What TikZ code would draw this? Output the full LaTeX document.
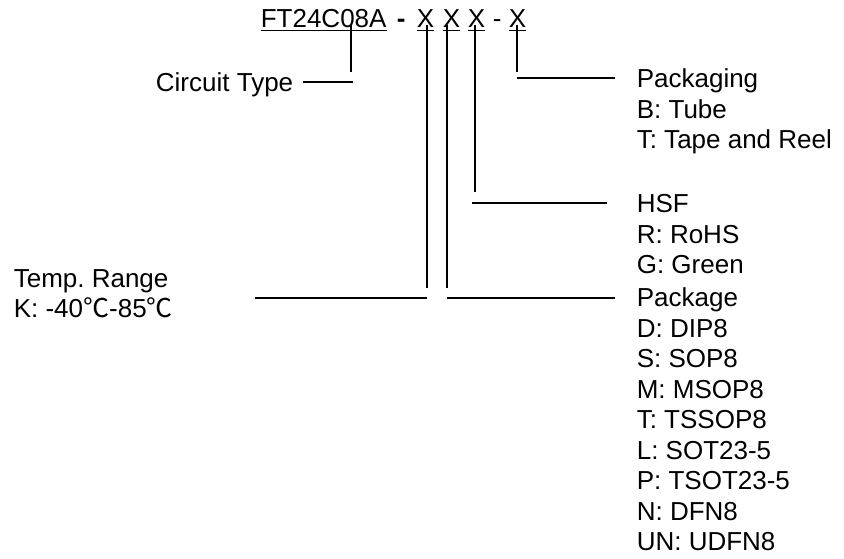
\documentclass[tikz,border=0pt]{standalone}
\usepackage{fontspec}
\setmainfont{Liberation Sans}
\newfontfamily\cjk{Noto Sans CJK SC}
\newcommand{\degc}{{\cjk ℃}}
\frenchspacing

\begin{document}
\begin{tikzpicture}[x=0.75pt,y=-0.75pt,line width=1.2pt,
  code/.style={inner sep=0pt,anchor=base west,font=\fontsize{19.5pt}{22.9pt}\selectfont},
  legend/.style={code,align=left}]
\useasboundingbox (0,0) rectangle (844,559);
% part number
\node[code] (type) at (260,28) {\underline{FT24C08A}};
\node[code] (bar) at (396,28) {\bfseries -};
\node[code] (x1) at (416,28) {\underline{X}};
\node[code] (x2) at (442,28) {\underline{X}};
\node[code] (x3) at (467,28) {\underline{X}};
\node[code] (sep) at (492,28) {-};
\node[code] (x4) at (508,28) {\underline{X}};
% legends (placed at the baseline of their last line)
\node[code,anchor=base east] (circuit) at (294,92) {Circuit Type};
\node[legend] (packaging) at (636,149) {Packaging\\B: Tube\\T: Tape and Reel};
\node[legend] (hsf) at (636,274) {HSF\\R: RoHS\\G: Green};
\node[legend] (package) at (636,551) {Package\\D: DIP8\\S: SOP8\\M: MSOP8\\T: TSSOP8\\L: SOT23-5\\P: TSOT23-5\\N: DFN8\\UN: UDFN8};
\node[legend] (temp) at (13,318) {Temp. Range\\K: -40\degc-85\degc};
% leader ends
\coordinate (circuit top) at (351,25);
\coordinate (circuit foot) at (351,72);
\coordinate (circuit a) at (303,82);
\coordinate (circuit b) at (353,82);
\coordinate (x1 top) at (427,25);
\coordinate (x1 foot) at (427,288);
\coordinate (temp end) at (255,298);
\coordinate (x1 end) at (427,298);
\coordinate (x2 top) at (447,25);
\coordinate (x2 foot) at (447,288);
\coordinate (x2 end) at (447,298);
\coordinate (package end) at (615,298);
\coordinate (x3 top) at (475,25);
\coordinate (x3 foot) at (475,192);
\coordinate (x3 end) at (472,203);
\coordinate (hsf end) at (607,203);
\coordinate (x4 top) at (517,25);
\coordinate (x4 foot) at (517,72);
\coordinate (x4 end) at (517,78);
\coordinate (packaging end) at (615,78);
% leaders
\draw (circuit top) -- (circuit foot);
\draw (circuit a) -- (circuit b);
\draw (x1 top) -- (x1 foot);
\draw (temp end) -- (x1 end);
\draw (x2 top) -- (x2 foot);
\draw (x2 end) -- (package end);
\draw (x3 top) -- (x3 foot);
\draw (x3 end) -- (hsf end);
\draw (x4 top) -- (x4 foot);
\draw (x4 end) -- (packaging end);
\end{tikzpicture}
\end{document}
